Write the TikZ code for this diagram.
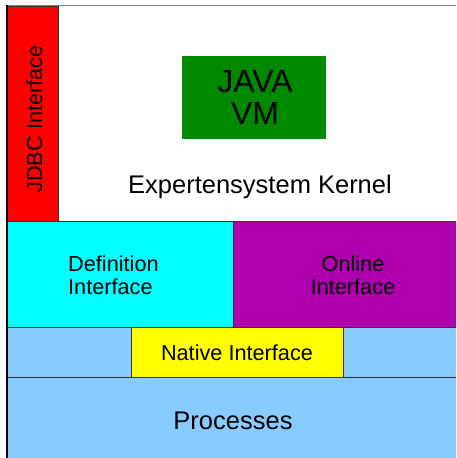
\documentclass[tikz,border=0pt]{standalone}
\usepackage{fontspec}
\setmainfont{Liberation Sans}
\definecolor{jdbcred}{HTML}{FF0000}
\definecolor{defcyan}{HTML}{00FFFF}
\definecolor{onlpurple}{HTML}{AE00AE}
\definecolor{procblue}{HTML}{88CCFF}
\definecolor{natyellow}{HTML}{FFFF00}
\definecolor{vmgreen}{HTML}{008800}
\definecolor{edgegray}{HTML}{333333}
\tikzset{
  layer/.style={draw=edgegray, line width=0.9pt},
  lbl/.style={inner sep=0pt, text=black},
  midlbl/.style={lbl, font=\fontsize{21.7}{22.7}\selectfont},
  biglbl/.style={lbl, font=\fontsize{25.5}{27}\selectfont},
}
\begin{document}
\begin{tikzpicture}[x={(1pt,0)}, y={(0,-1pt)}]
\useasboundingbox (0,0) rectangle (456,458);
\clip (0,0) rectangle (456,458);
\fill[white] (0,0) rectangle (456,458);
% kernel area
\fill[white] (7,6) rectangle (470,221);
\draw[gray, line width=1.6pt] (7,5.5) -- (470,5.5);
% JDBC
\path[layer, fill=jdbcred] (7,6) rectangle (58,221);
% JAVA VM
\path[fill=vmgreen] (182,56) rectangle (326,139);
% definition / online
\path[layer, fill=defcyan] (7,221) rectangle (233,327);
\path[layer, fill=onlpurple] (233,221) rectangle (470,327);
% native row
\path[layer, fill=procblue] (7,327) rectangle (470,377);
\path[layer, fill=natyellow] (131,327) rectangle (343,377);
% processes
\path[layer, fill=procblue] (7,377) rectangle (470,470);
\draw[black, line width=1.2pt] (7,5) -- (7,470);
% labels
\node[midlbl, rotate=90, anchor=base] (jdbc) at (42,119) {JDBC Interface};
\node[lbl, font=\fontsize{32}{32.3}\selectfont, align=center] (vm) at (255,97.4) {JAVA\\VM};
\node[biglbl, anchor=base] (kernel) at (260,193) {Expertensystem Kernel};
\node[midlbl, align=left, anchor=west] (def) at (68,275) {Definition\\Interface};
\node[midlbl, align=center] (onl) at (353,275) {Online\\Interface};
\node[midlbl, anchor=base] (nat) at (237,360) {Native Interface};
\node[biglbl, anchor=base] (proc) at (233,429) {Processes};
\end{tikzpicture}
\end{document}
